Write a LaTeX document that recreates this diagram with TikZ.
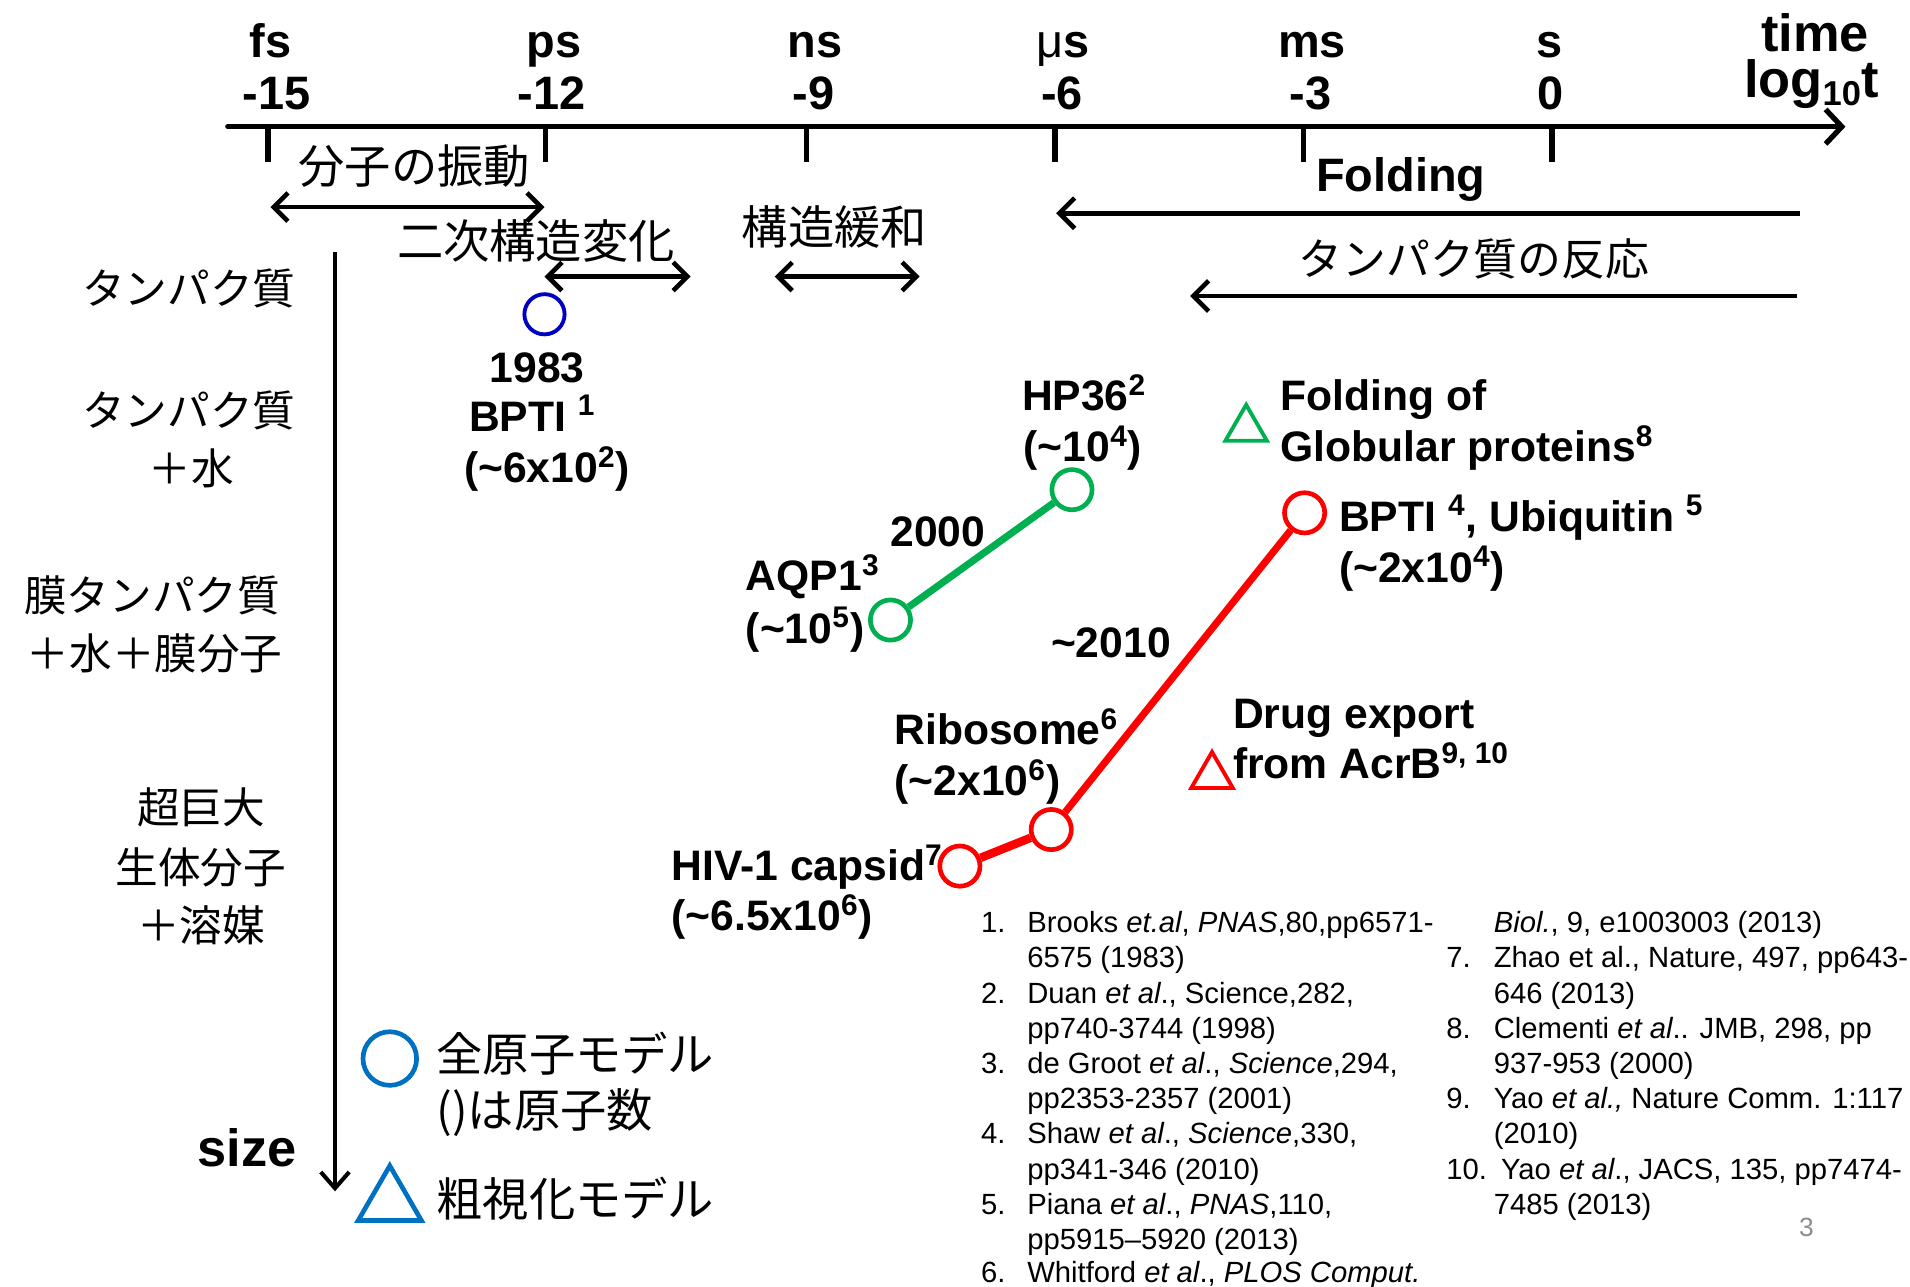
\documentclass[tikz,border=0pt]{standalone}
\usepackage{fontspec}
\setmainfont{Liberation Sans}
\newfontfamily\jpfont{Noto Sans CJK JP}
\usetikzlibrary{arrows.meta,shapes.geometric}
\definecolor{gC}{HTML}{00B050}
\definecolor{rC}{HTML}{FF0000}
\definecolor{bC}{HTML}{0000C0}
\definecolor{lbC}{HTML}{0070C0}
\definecolor{pgC}{HTML}{8C8C8C}
\newcommand\szUnit{\fontsize{23.1}{27}\selectfont\bfseries}
\newcommand\szTime{\fontsize{25.8}{30}\selectfont\bfseries}
\newcommand\szLab{\fontsize{21}{25}\selectfont\bfseries}
\newcommand\jpTop{\jpfont\fontsize{22.8}{27}\selectfont}
\newcommand\jpRe{\jpfont\fontsize{21.6}{26}\selectfont}
\newcommand\jpLeft{\jpfont\fontsize{21}{25}\selectfont}
\newcommand\szRef{\fontsize{14.4}{17.3}\selectfont}
\begin{document}
\begin{tikzpicture}[x=0.6pt,y=-0.6pt,
  unitlab/.style={anchor=base, font=\szUnit, inner sep=0},
  timelab/.style={anchor=base, font=\szTime, inner sep=0},
  lab/.style={anchor=base west, font=\szLab, inner sep=0},
  labc/.style={anchor=base, font=\szLab, inner sep=0},
  jtop/.style={anchor=base, font=\jpTop, inner sep=0},
  jleft/.style={anchor=base, font=\jpLeft, inner sep=0},
  jleg/.style={anchor=base west, font=\jpTop, inner sep=0},
  reftxt/.style={anchor=base west, font=\szRef, inner sep=0},
  ring/.style={circle, draw, inner sep=0, minimum size=19.8pt, line width=2.3pt},
  tri/.style={regular polygon, regular polygon sides=3, draw, inner sep=0, minimum size=23.6pt, line width=1.9pt},
  axisln/.style={line width=2.6pt, line cap=round, -{Straight Barb[length=8pt,width=17pt]}},
  tickln/.style={line width=2.6pt},
  dbl/.style={line width=2.3pt, {Straight Barb[length=7pt,width=14pt]}-{Straight Barb[length=7pt,width=14pt]}},
  larr/.style={line width=2.3pt, -{Straight Barb[length=7.5pt,width=15pt]}}
]
\useasboundingbox (0,0) rectangle (1568,1056);

% time axis
\coordinate (axL) at (187,104);
\coordinate (axR) at (1515,104);
\draw[axisln] (axL) -- (axR);
\foreach \xx [count=\i] in {220,448,662,866,1070,1274}{
  \coordinate (tk\i) at (\xx,104);
  \draw[tickln] (tk\i) -- ++(0,29);
}
\node[unitlab] (ufs) at (222,47) {fs};
\node[unitlab] (ups) at (455,47) {ps};
\node[unitlab] (uns) at (669,47) {ns};
\node[unitlab] (uus) at (873,47) {{\mdseries μ}s};
\node[unitlab] (ums) at (1077,47) {ms};
\node[unitlab] (us) at (1272,47) {s};
\node[unitlab] (n15) at (227,90) {-15};
\node[unitlab] (n12) at (453,90) {-12};
\node[unitlab] (n9) at (668,90) {-9};
\node[unitlab] (n6) at (872,90) {-6};
\node[unitlab] (n3) at (1076,90) {-3};
\node[unitlab] (n0) at (1273,90) {0};
\node[timelab] (time) at (1490,42) {time};
\node[timelab] (logt) at (1487,80) {log{\fontsize{17}{20}\selectfont\raisebox{-0.22em}{10}}t};

% process ranges
\node[jtop] (vib) at (340,151) {分子の振動};
\coordinate (vibL) at (222,170);
\coordinate (vibR) at (447,170);
\draw[dbl] (vibL) -- (vibR);
\node[jtop] (sec) at (440,212) {二次構造変化};
\coordinate (secL) at (447,227);
\coordinate (secR) at (567,227);
\draw[dbl] (secL) -- (secR);
\node[jtop] (relax) at (685,201) {構造緩和};
\coordinate (relL) at (636,227);
\coordinate (relR) at (755,227);
\draw[dbl] (relL) -- (relR);
\node[unitlab] (fold) at (1150,157) {Folding};
\coordinate (foldR) at (1478,175);
\coordinate (foldL) at (867,175);
\draw[larr] (foldR) -- (foldL);
\node[anchor=base, font=\jpRe, inner sep=0] (react) at (1210,226) {タンパク質の反応};
\coordinate (reaR) at (1475,243);
\coordinate (reaL) at (977,243);
\draw[larr] (reaR) -- (reaL);

% size axis
\coordinate (szT) at (275,207);
\coordinate (szB) at (275,978);
\draw[line width=2pt, -{Straight Barb[length=8pt,width=14pt]}] (szT) -- (szB);
\node[anchor=base, font=\szTime, inner sep=0] (size) at (203,958) {size};

% left row labels
\node[jleft] (r1) at (155,250) {タンパク質};
\node[jleft] (r2a) at (155,350) {タンパク質};
\node[jleft] (r2b) at (157,398) {＋水};
\node[jleft] (r3a) at (125,502) {膜タンパク質};
\node[jleft] (r3b) at (127,550) {＋水＋膜分子};
\node[jleft] (r4a) at (165,676) {超巨大};
\node[jleft] (r4b) at (165,725) {生体分子};
\node[jleft] (r4c) at (165,773) {＋溶媒};

% 1983
\node[ring, draw=bC, line width=1.9pt] (c1983) at (447,258) {};
\node[labc] (y1983) at (441,314) {1983};
\node[labc] (bpti1) at (437,354) {BPTI \textsuperscript{1}};
\node[labc] (bpti1n) at (449,396) {(\textasciitilde6x10\textsuperscript{2})};

% 2000 (green)
\node[ring, draw=gC] (aqp) at (731,509) {};
\node[ring, draw=gC] (hp36) at (880,402) {};
\draw[gC, line width=3.5pt] (aqp) -- (hp36);
\node[labc] (y2000) at (770,449) {2000};
\node[lab] (aqpl) at (612,485) {AQP1\textsuperscript{3}};
\node[lab] (aqpn) at (612,528) {(\textasciitilde10\textsuperscript{5})};
\node[labc] (hpl) at (890,337) {HP36\textsuperscript{2}};
\node[labc] (hpn) at (889,379) {(\textasciitilde10\textsuperscript{4})};
\node[tri, draw=gC] (triG) at (1023,352) {};
\node[lab] (fga) at (1051,337) {Folding of};
\node[lab] (fgb) at (1051,379) {Globular proteins\textsuperscript{8}};

% 2010 (red)
\node[ring, draw=rC] (bpti4) at (1071,421) {};
\node[ring, draw=rC] (ribo) at (863,681) {};
\node[ring, draw=rC] (hiv) at (788,711) {};
\draw[rC, line width=4.2pt] (hiv) -- (ribo);
\draw[rC, line width=3.5pt] (ribo) -- (bpti4);
\node[lab] (bpl) at (1099,436) {BPTI \textsuperscript{4}, Ubiquitin \textsuperscript{5}};
\node[lab] (bpn) at (1099,478) {(\textasciitilde2x10\textsuperscript{4})};
\node[labc] (y2010) at (912,540) {\textasciitilde2010};
\node[lab] (ribl) at (734,611) {Ribosome\textsuperscript{6}};
\node[lab] (ribn) at (734,653) {(\textasciitilde2x10\textsuperscript{6})};
\node[lab] (hivl) at (551,723) {HIV-1 capsid\textsuperscript{7}};
\node[lab] (hivn) at (551,764) {(\textasciitilde6.5x10\textsuperscript{6})};
\node[tri, draw=rC] (triR) at (995,637) {};
\node[lab] (dea) at (1012,598) {Drug export};
\node[lab] (deb) at (1012,639) {from AcrB\textsuperscript{9, 10}};

% legend
\node[circle, draw=lbC, line width=2.3pt, inner sep=0, minimum size=26.4pt] (legC) at (320,869) {};
\node[jleg] (legCa) at (358,880) {全原子モデル};
\node[jleg] (legCb) at (358,926) {()は原子数};
\node[regular polygon, regular polygon sides=3, draw=lbC, line width=2.3pt, inner sep=0, minimum size=36pt] (legT) at (320,987) {};
\node[jleg] (legTa) at (358,999) {粗視化モデル};

% references
\def\rb{765.6}
\def\rs{28.9}
\node[reftxt] (rn1) at (805,{\rb+0*\rs}) {1.};
\node[reftxt] (rt1a) at (843,{\rb+0*\rs}) {Brooks \textit{et.al}, \textit{PNAS},80,pp6571-};
\node[reftxt] (rt1b) at (843,{\rb+1*\rs}) {6575 (1983)};
\node[reftxt] (rn2) at (805,{\rb+2*\rs}) {2.};
\node[reftxt] (rt2a) at (843,{\rb+2*\rs}) {Duan \textit{et al}., Science,282,};
\node[reftxt] (rt2b) at (843,{\rb+3*\rs}) {pp740-3744 (1998)};
\node[reftxt] (rn3) at (805,{\rb+4*\rs}) {3.};
\node[reftxt] (rt3a) at (843,{\rb+4*\rs}) {de Groot \textit{et al}., \textit{Science},294,};
\node[reftxt] (rt3b) at (843,{\rb+5*\rs}) {pp2353-2357 (2001)};
\node[reftxt] (rn4) at (805,{\rb+6*\rs}) {4.};
\node[reftxt] (rt4a) at (843,{\rb+6*\rs}) {Shaw \textit{et al}., \textit{Science},330,};
\node[reftxt] (rt4b) at (843,{\rb+7*\rs}) {pp341-346 (2010)};
\node[reftxt] (rn5) at (805,{\rb+8*\rs}) {5.};
\node[reftxt] (rt5a) at (843,{\rb+8*\rs}) {Piana \textit{et al}., \textit{PNAS},110,};
\node[reftxt] (rt5b) at (843,{\rb+9*\rs}) {pp5915--5920 (2013)};
\node[reftxt] (rn6) at (805,{\rb+10*\rs-2}) {6.};
\node[reftxt] (rt6a) at (843,{\rb+10*\rs-2}) {Whitford \textit{et al}., \textit{PLOS Comput.}};
\node[reftxt] (rt6b) at (1226,{\rb+0*\rs}) {\textit{Biol.}, 9, e1003003 (2013)};
\node[reftxt] (rn7) at (1187,{\rb+1*\rs}) {7.};
\node[reftxt] (rt7a) at (1226,{\rb+1*\rs}) {Zhao et al., Nature, 497, pp643-};
\node[reftxt] (rt7b) at (1226,{\rb+2*\rs}) {646 (2013)};
\node[reftxt] (rn8) at (1187,{\rb+3*\rs}) {8.};
\node[reftxt] (rt8a) at (1226,{\rb+3*\rs}) {Clementi \textit{et al}.. JMB, 298, pp};
\node[reftxt] (rt8b) at (1226,{\rb+4*\rs}) {937-953 (2000)};
\node[reftxt] (rn9) at (1187,{\rb+5*\rs}) {9.};
\node[reftxt] (rt9a) at (1226,{\rb+5*\rs}) {Yao \textit{et al.,} Nature Comm. 1:117};
\node[reftxt] (rt9b) at (1226,{\rb+6*\rs}) {(2010)};
\node[reftxt] (rn10) at (1187,{\rb+7*\rs}) {10.};
\node[reftxt] (rt10a) at (1232,{\rb+7*\rs}) {Yao \textit{et al}., JACS, 135, pp7474-};
\node[reftxt] (rt10b) at (1226,{\rb+8*\rs}) {7485 (2013)};
\node[anchor=base, font=\fontsize{13}{15}\selectfont, text=pgC, inner sep=0] (pgno) at (1483,1015) {3};
\end{tikzpicture}
\end{document}
